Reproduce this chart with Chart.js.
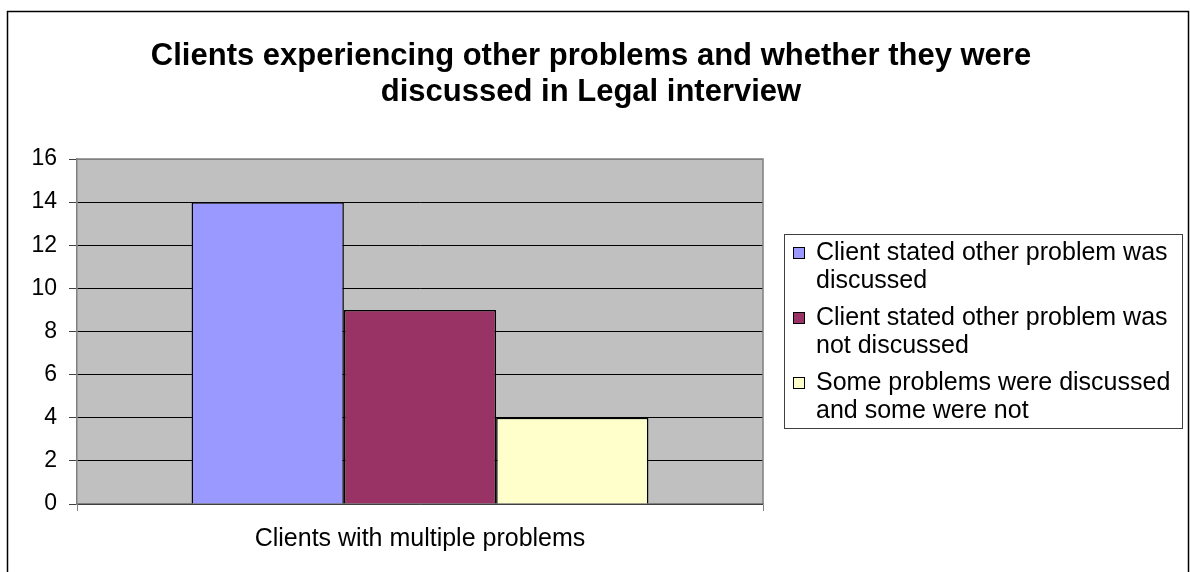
<!DOCTYPE html>
<html>
<head>
<meta charset="utf-8">
<title>Clients experiencing other problems</title>
<script src="https://cdn.jsdelivr.net/npm/chart.js@4/dist/chart.umd.min.js"></script>
<style>
    html, body { margin: 0; padding: 0; background: #fff; }
    #chartBox { width: 1190px; height: 572px; }
</style>
</head>
<body>
<div id="chartBox"><canvas id="chart" width="1190" height="572"></canvas></div>
<script>
/* chart data */
var categories = ['Clients with multiple problems'];
var seriesNames = [
    'Client stated other problem was discussed',
    'Client stated other problem was not discussed',
    'Some problems were discussed and some were not'
];
var discussedValues = [14];
var notDiscussedValues = [9];
var someDiscussedValues = [4];
var seriesColors = ['#9999FF', '#993366', '#FFFFCC'];
var yMin = 0, yMax = 16, yStep = 2;
var titleLines = [
    'Clients experiencing other problems and whether they were',
    'discussed in Legal interview'
];

var FONT = 'Arial, "Liberation Sans", sans-serif';
Chart.defaults.font.family = FONT;
Chart.defaults.color = '#000';

// 배경, 외곽선, 플롯 영역 회색 채우기
var framePlugin = {
    id: 'frame',
    beforeDraw: function (chart) {
        var ctx = chart.ctx;
        var a = chart.chartArea;
        ctx.save();
        ctx.fillStyle = '#fff';
        ctx.fillRect(0, 0, chart.width, chart.height);
        ctx.strokeStyle = '#000';
        ctx.lineWidth = 1.5;
        ctx.strokeRect(7.5, 11.5, 1181, 620);
        ctx.fillStyle = '#C0C0C0';
        ctx.fillRect(a.left, a.top, a.right - a.left, a.bottom - a.top);
        ctx.restore();
    },
    beforeDatasetsDraw: function (chart) {
        var ctx = chart.ctx;
        var a = chart.chartArea;
        ctx.save();
        ctx.strokeStyle = '#808080';
        ctx.lineWidth = 1.5;
        ctx.beginPath();
        ctx.moveTo(a.left, a.top);
        ctx.lineTo(a.right, a.top);
        ctx.lineTo(a.right, a.bottom);
        ctx.stroke();
        ctx.restore();
    }
};

// 범례 박스 (줄바꿈 포함)
var legendPlugin = {
    id: 'boxLegend',
    afterDraw: function (chart) {
        var ctx = chart.ctx;
        var box = {x: 784.5, y: 234.5, w: 398, h: 194};
        var maxWidth = 366;
        ctx.save();
        ctx.fillStyle = '#fff';
        ctx.fillRect(box.x, box.y, box.w, box.h);
        ctx.strokeStyle = '#404040';
        ctx.lineWidth = 1;
        ctx.strokeRect(box.x, box.y, box.w, box.h);

        ctx.font = '25px ' + FONT;
        ctx.textBaseline = 'middle';
        var y = 253;
        chart.data.datasets.forEach(function (ds) {
            // 단어 단위 줄바꿈
            var words = ds.label.split(' ');
            var lines = [];
            var line = '';
            words.forEach(function (w) {
                var test = line ? line + ' ' + w : w;
                if (ctx.measureText(test).width > maxWidth && line) {
                    lines.push(line);
                    line = w;
                } else {
                    line = test;
                }
            });
            lines.push(line);

            ctx.fillStyle = ds.backgroundColor;
            ctx.fillRect(793.5, y - 5.5, 11, 11);
            ctx.strokeStyle = '#000';
            ctx.strokeRect(793.5, y - 5.5, 11, 11);

            ctx.fillStyle = '#000';
            lines.forEach(function (l, i) {
                ctx.fillText(l, 816, y + i * 28);
            });
            y += (lines.length - 1) * 28 + 37;
        });
        ctx.restore();
    }
};

var chart = new Chart(document.getElementById('chart'), {
    type: 'bar',
    data: {
        labels: categories,
        datasets: [{
            label: seriesNames[0],
            data: discussedValues,
            backgroundColor: seriesColors[0]
        }, {
            label: seriesNames[1],
            data: notDiscussedValues,
            backgroundColor: seriesColors[1]
        }, {
            label: seriesNames[2],
            data: someDiscussedValues,
            backgroundColor: seriesColors[2]
        }]
    },
    options: {
        responsive: false,
        animation: false,
        layout: {padding: {left: 0, right: 8, top: 12, bottom: 0}},
        datasets: {
            bar: {
                borderColor: '#000',
                borderWidth: 1.5,
                categoryPercentage: 0.666,
                barPercentage: 1
            }
        },
        plugins: {
            legend: {display: false},
            tooltip: {enabled: false},
            title: {
                display: true,
                text: titleLines,
                color: '#000',
                font: {size: 31, weight: 'bold', lineHeight: 36 / 31},
                padding: {top: 26, bottom: 49}
            }
        },
        scales: {
            x: {
                grid: {
                    drawOnChartArea: false,
                    color: '#808080',
                    tickLength: 7
                },
                border: {color: '#808080', width: 1.5},
                ticks: {font: {size: 25}, color: '#000', padding: 13},
                afterFit: function (s) { s.height = 68; }
            },
            y: {
                min: yMin,
                max: yMax,
                ticks: {stepSize: yStep, font: {size: 23}, color: '#000', padding: 12},
                grid: {
                    color: function (c) {
                        return c.tick && c.tick.value === yMax ? '#808080' : '#000';
                    },
                    tickColor: '#404040',
                    tickLength: 8,
                    lineWidth: 1
                },
                border: {color: '#808080', width: 1.5},
                afterFit: function (s) { s.width = 77; }
            },
            // 범례 자리 확보용 빈 축
            yRight: {
                position: 'right',
                display: true,
                ticks: {display: false},
                grid: {display: false},
                border: {display: false},
                afterFit: function (s) { s.width = 1190 - 8 - 763; }
            }
        }
    },
    plugins: [framePlugin, legendPlugin]
});
</script>
</body>
</html>
